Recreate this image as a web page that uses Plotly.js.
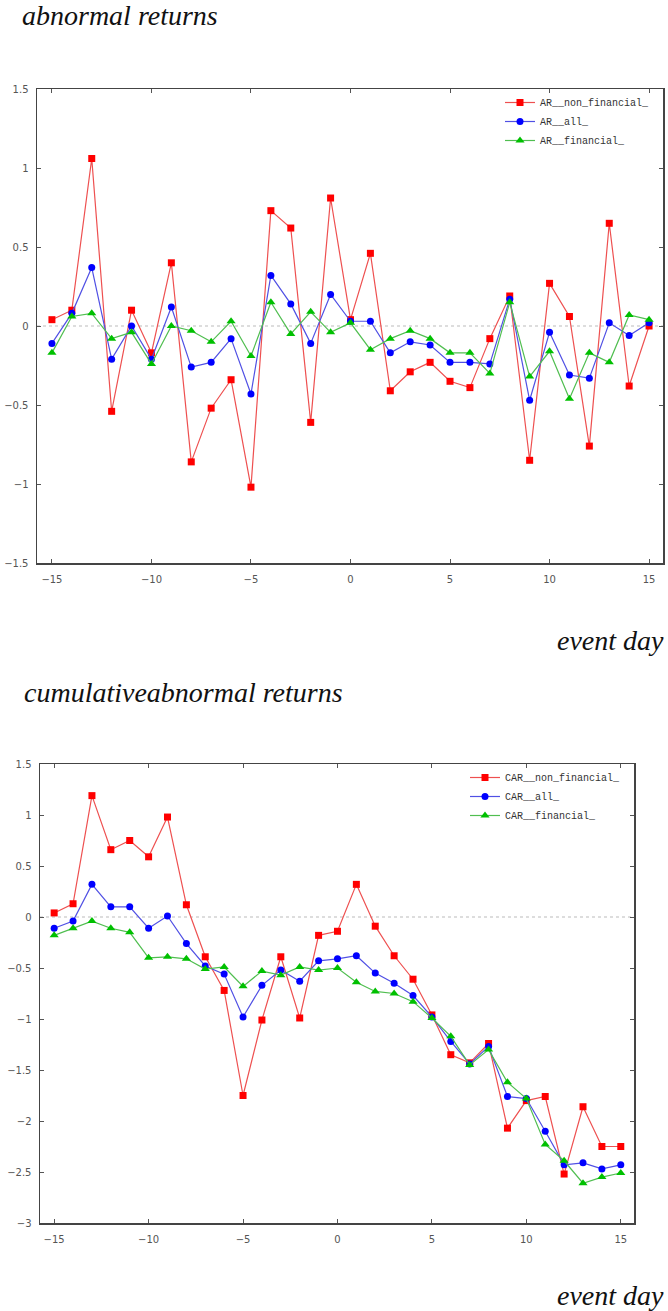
<!DOCTYPE html>
<html>
<head>
<meta charset="utf-8">
<script src="https://cdn.plot.ly/plotly-3.0.1.min.js"></script>
<style>
html,body{margin:0;padding:0;background:#fff;}
#chart{width:668px;height:1311px;}
</style>
</head>
<body>
<div id="chart"></div>
<script>
// ---- data ----
const eventDays = [-15,-14,-13,-12,-11,-10,-9,-8,-7,-6,-5,-4,-3,-2,-1,0,1,2,3,4,5,6,7,8,9,10,11,12,13,14,15];

const arNonFinancial = [0.04,0.10,1.06,-0.54,0.10,-0.17,0.40,-0.86,-0.52,-0.34,-1.02,0.73,0.62,-0.61,0.81,0.04,0.46,-0.41,-0.29,-0.23,-0.35,-0.39,-0.08,0.19,-0.85,0.27,0.06,-0.76,0.65,-0.38,0.00];
const arAll = [-0.11,0.08,0.37,-0.21,0.00,-0.21,0.12,-0.26,-0.23,-0.08,-0.43,0.32,0.14,-0.11,0.20,0.03,0.03,-0.17,-0.10,-0.12,-0.23,-0.23,-0.24,0.17,-0.47,-0.04,-0.31,-0.33,0.02,-0.06,0.02];
const arFinancial = [-0.17,0.06,0.08,-0.08,-0.04,-0.24,0.00,-0.03,-0.10,0.03,-0.19,0.15,-0.05,0.09,-0.04,0.02,-0.15,-0.08,-0.03,-0.08,-0.17,-0.17,-0.30,0.15,-0.32,-0.16,-0.46,-0.17,-0.23,0.07,0.04];

const carNonFinancial = [0.04,0.13,1.19,0.66,0.75,0.59,0.98,0.12,-0.39,-0.72,-1.75,-1.01,-0.39,-0.99,-0.18,-0.14,0.32,-0.09,-0.38,-0.61,-0.96,-1.35,-1.43,-1.24,-2.07,-1.80,-1.76,-2.52,-1.86,-2.25,-2.25];
const carAll = [-0.11,-0.04,0.32,0.10,0.10,-0.11,0.01,-0.26,-0.48,-0.56,-0.98,-0.67,-0.52,-0.63,-0.43,-0.41,-0.38,-0.55,-0.65,-0.77,-0.98,-1.22,-1.44,-1.27,-1.76,-1.78,-2.10,-2.43,-2.41,-2.47,-2.43];
const carFinancial = [-0.18,-0.11,-0.04,-0.11,-0.15,-0.40,-0.39,-0.41,-0.51,-0.49,-0.68,-0.53,-0.57,-0.49,-0.52,-0.50,-0.64,-0.73,-0.75,-0.83,-0.99,-1.17,-1.45,-1.30,-1.62,-1.78,-2.23,-2.39,-2.61,-2.55,-2.51];

const xTickVals = [-15,-10,-5,0,5,10,15];
const arTickVals = [-1.5,-1,-0.5,0,0.5,1,1.5];
const carTickVals = [-3,-2.5,-2,-1.5,-1,-0.5,0,0.5,1,1.5];

const seriesNames1 = ['AR__non_financial_','AR__all_','AR__financial_'];
const seriesNames2 = ['CAR__non_financial_','CAR__all_','CAR__financial_'];

// ---- styles ----
const W = 668, H = 1311;
const lineCols = ['rgb(238,80,80)','rgb(80,80,228)','rgb(80,190,80)'];
const markCols = ['#ff0000','#0000ff','#00c000'];
const symbols = ['square','circle','triangle-up'];
const msizes = [7,7,8];

function mk(y, i, name, xa, ya, leg){
  return {
    x: eventDays, y: y, name: name, type:'scatter', mode:'lines+markers',
    xaxis: xa, yaxis: ya, legend: leg,
    line:{color: lineCols[i], width:1.2},
    marker:{color: markCols[i], symbol: symbols[i], size: msizes[i], line:{width:0}}
  };
}

const traces = [
  mk(arNonFinancial,0,seriesNames1[0],'x','y','legend'),
  mk(arAll,1,seriesNames1[1],'x','y','legend'),
  mk(arFinancial,2,seriesNames1[2],'x','y','legend'),
  mk(carNonFinancial,0,seriesNames2[0],'x2','y2','legend2'),
  mk(carAll,1,seriesNames2[1],'x2','y2','legend2'),
  mk(carFinancial,2,seriesNames2[2],'x2','y2','legend2')
];

const tickFont = {family:'DejaVu Sans, sans-serif', size:10, color:'#555'};
function xax(domain, anchor){
  return {domain: domain, anchor: anchor, range:[-15.75,15.7], tickvals:xTickVals,
    ticks:'inside', ticklen:4, tickcolor:'#555', mirror:'ticks', showline:true,
    linecolor:'#444', linewidth:1.5, showgrid:false, zeroline:false,
    tickfont: tickFont, ticklabelstandoff:6};
}
function yax(domain, anchor, range, tv){
  return {domain: domain, anchor: anchor, range: range, tickvals: tv,
    ticks:'inside', ticklen:4, tickcolor:'#555', mirror:'ticks', showline:true,
    linecolor:'#444', linewidth:1.5, showgrid:false, zeroline:false,
    tickfont: tickFont, ticklabelstandoff:5};
}

const serif = {family:'Liberation Serif, serif', size:28, color:'#111', style:'italic'};
const legFont = {family:'Liberation Mono, DejaVu Sans Mono, monospace', size:10, color:'#333'};

const layout = {
  width: W, height: H,
  margin:{l:0,r:0,t:0,b:0},
  paper_bgcolor:'#fff', plot_bgcolor:'#fff',
  showlegend:true,
  xaxis: xax([37/W, 663/W], 'y'),
  yaxis: yax([1-563/H, 1-89/H], 'x', [-1.5,1.5], arTickVals),
  xaxis2: xax([40/W, 634/W], 'y2'),
  yaxis2: yax([1-1223/H, 1-764/H], 'x2', [-3,1.5], carTickVals),
  legend:{x:655/W, y:1-88/H, xanchor:'right', yanchor:'top', bgcolor:'rgba(0,0,0,0)',
    font: legFont, tracegroupgap:0, itemwidth:30},
  legend2:{x:626/W, y:1-763/H, xanchor:'right', yanchor:'top', bgcolor:'rgba(0,0,0,0)',
    font: legFont, tracegroupgap:0, itemwidth:30},
  shapes:[
    {type:'line', xref:'x domain', yref:'y', x0:0, x1:1, y0:0, y1:0, line:{color:'#bbb', width:1, dash:'dot'}, layer:'below'},
    {type:'line', xref:'x2 domain', yref:'y2', x0:0, x1:1, y0:0, y1:0, line:{color:'#bbb', width:1, dash:'dot'}, layer:'below'}
  ],
  annotations:[
    {text:'abnormal returns', xref:'paper', yref:'paper', x:20/W, y:1-16/H, xanchor:'left', yanchor:'middle', showarrow:false, font: serif},
    {text:'event day', xref:'paper', yref:'paper', x:666/W, y:1-640/H, xanchor:'right', yanchor:'middle', showarrow:false, font: serif},
    {text:'cumulativeabnormal returns', xref:'paper', yref:'paper', x:22/W, y:1-692/H, xanchor:'left', yanchor:'middle', showarrow:false, font: serif},
    {text:'event day', xref:'paper', yref:'paper', x:666/W, y:1-1295/H, xanchor:'right', yanchor:'middle', showarrow:false, font: serif}
  ]
};

Plotly.newPlot('chart', traces, layout, {displayModeBar:false, staticPlot:true});
</script>
</body>
</html>
